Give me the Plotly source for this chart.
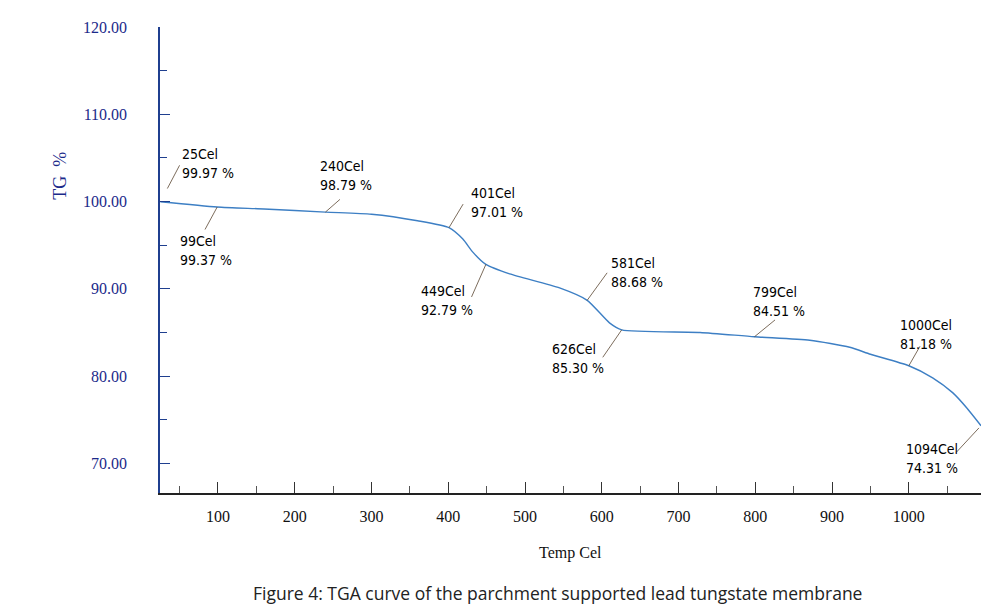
import plotly.graph_objects as go

# TGA curve (temperature in Cel, TG in %)
temps = [25, 99, 160, 240, 300, 360, 401, 419, 432, 449, 480, 545, 581, 610, 626,
         728, 799, 871, 923, 950, 1000, 1031, 1057, 1075, 1094]
tg = [99.97, 99.37, 99.15, 98.79, 98.55, 97.8, 97.01, 95.7, 94.2, 92.79, 91.7, 90.1,
      88.68, 86.1, 85.30, 85.0, 84.51, 84.1, 83.3, 82.5, 81.18, 79.8, 78.1, 76.4, 74.31]

# labelled points
label_temps = [25, 99, 240, 401, 449, 581, 626, 799, 1000, 1094]
label_tg = [99.97, 99.37, 98.79, 97.01, 92.79, 88.68, 85.30, 84.51, 81.18, 74.31]

x_ticks = [100, 200, 300, 400, 500, 600, 700, 800, 900, 1000]
y_ticks = [70, 80, 90, 100, 110, 120]

# label layout offsets (pixels): leader tail (ax, ay), standoff, text (dx, dy of first line)
leader = [(20, -38, 15), (-13, 24, 0), (16, -14, 0), (15, -25, 0), (-15, 34, 0),
          (21, -29, 0), (-20, 29, 0), (22, -18, 0), (12, -21, 0), (-26, 28, 3)]
text_off = [(20, -48), (-39, 34), (-7, -46), (20, -35), (-67, 27),
            (22, -37), (-72, 19), (-4, -45), (-11, -41), (-77, 23)]

fig = go.Figure()
fig.add_trace(go.Scatter(x=temps, y=tg, mode="lines",
                         line=dict(color="#3d7fc4", width=1.4, shape="spline", smoothing=0.6),
                         cliponaxis=False, hoverinfo="skip"))

ann = []
for t, v, (ax, ay, so), (dx, dy) in zip(label_temps, label_tg, leader, text_off):
    ann.append(dict(x=t, y=v, xref="x", yref="y", text="", showarrow=True,
                    arrowhead=0, arrowwidth=0.8, arrowcolor="#5a4632",
                    ax=ax, ay=ay, standoff=so))
    for i, line in enumerate([f"{t}Cel", f"{v:.2f} %"]):
        ann.append(dict(x=t, y=v, xref="x", yref="y", text=line, showarrow=False,
                        xanchor="left", yanchor="middle",
                        xshift=dx, yshift=-(dy + 19 * i),
                        font=dict(family="DejaVu Sans Condensed, DejaVu Sans", size=14,
                                  color="#000000")))

ann.append(dict(x=0.5, y=-0.1288, xref="paper", yref="paper", text="Temp Cel",
                showarrow=False, xanchor="center", yanchor="middle",
                font=dict(family="Liberation Serif", size=16, color="#111111")))
ann.append(dict(x=-0.1222, y=0.68, xref="paper", yref="paper", text="TG  %",
                showarrow=False, textangle=-90, xanchor="center", yanchor="middle",
                font=dict(family="Liberation Serif", size=18, color="#1b2a8a")))
ann.append(dict(x=0.484, y=-0.2146, xref="paper", yref="paper",
                text="Figure 4: TGA curve of the parchment supported lead tungstate membrane",
                showarrow=False, xanchor="center", yanchor="middle",
                font=dict(family="Open Sans", size=17.5, color="#222222")))

fig.update_layout(
    width=981, height=601,
    margin=dict(l=152, r=8, t=19, b=116),
    paper_bgcolor="white", plot_bgcolor="white",
    showlegend=False,
    annotations=ann,
    xaxis=dict(range=[24.5, 1094], tickvals=x_ticks, ticktext=[str(v) for v in x_ticks],
               ticks="inside", ticklen=11, tickwidth=1, tickcolor="#333333",
               showline=True, linecolor="#222222", linewidth=1.5,
               showgrid=False, zeroline=False, ticklabelstandoff=8,
               tickfont=dict(family="Liberation Serif", size=16, color="#111111"),
               minor=dict(dtick=50, tick0=0, ticks="inside", ticklen=7,
                          tickcolor="#555555", showgrid=False)),
    yaxis=dict(range=[66.6, 120], tickvals=y_ticks, ticktext=[f"{v:.2f}" for v in y_ticks],
               ticks="inside", ticklen=10, tickwidth=1, tickcolor="#1f3f8f",
               showline=True, linecolor="#1f3f8f", linewidth=1.5,
               showgrid=False, zeroline=False, ticklabelstandoff=28,
               tickfont=dict(family="Liberation Serif", size=16, color="#1b2a8a"),
               minor=dict(dtick=5, tick0=0, ticks="inside", ticklen=7,
                          tickcolor="#1f3f8f", showgrid=False)),
)

fig.write_html("out.html")
